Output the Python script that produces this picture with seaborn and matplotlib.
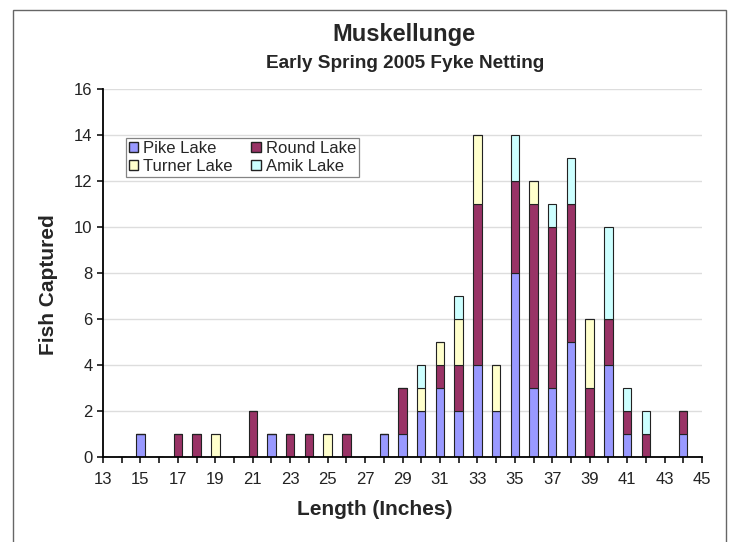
import numpy as np
import pandas as pd
import matplotlib
matplotlib.use("Agg")
import matplotlib.pyplot as plt
from matplotlib.patches import Patch, Rectangle
import seaborn as sns

lengths = list(range(13, 46))
pike = {15: 1, 22: 1, 28: 1, 29: 1, 30: 2, 31: 3, 32: 2, 33: 4, 34: 2, 35: 8, 36: 3,
        37: 3, 38: 5, 40: 4, 41: 1, 44: 1}
round_ = {17: 1, 18: 1, 21: 2, 23: 1, 24: 1, 26: 1, 29: 2, 31: 1, 32: 2, 33: 7, 35: 4,
          36: 8, 37: 7, 38: 6, 39: 3, 40: 2, 41: 1, 42: 1, 44: 1}
turner = {19: 1, 25: 1, 30: 1, 31: 1, 32: 2, 33: 3, 34: 2, 36: 1, 39: 3}
amik = {30: 1, 32: 1, 35: 2, 37: 1, 38: 2, 40: 4, 41: 1, 42: 1}

lakes = ["Pike Lake", "Round Lake", "Turner Lake", "Amik Lake"]
colors = ["#9999FF", "#993366", "#FFFFCC", "#CCFFFF"]
series = [pike, round_, turner, amik]

rows = []
for lake, d in zip(lakes, series):
    for L in lengths:
        rows.append({"Length": L, "Lake": lake, "Count": d.get(L, 0)})
df = pd.DataFrame(rows)

sns.set_style("white")
plt.rcParams["font.family"] = ["Liberation Sans", "DejaVu Sans"]

W, H = 732, 542
fig = plt.figure(figsize=(W / 100, H / 100), dpi=100)
ax = fig.add_axes([103 / W, 1 - 457 / H, (702 - 103) / W, (457 - 89) / H])

sns.histplot(data=df, x="Length", weights="Count", hue="Lake",
             hue_order=lakes[::-1], palette=dict(zip(lakes, colors)),
             multiple="stack", discrete=True, shrink=0.45, alpha=1,
             edgecolor="#222222", linewidth=0.8, legend=False, ax=ax)

ax.set_xlim(13, 45)
ax.set_ylim(0, 16)
ax.set_yticks(np.arange(0, 17, 2))
ax.set_xticks(np.arange(13, 46, 2))
ax.set_xticks(np.arange(14, 45, 2), minor=True)
ax.yaxis.grid(True, color="#dddddd", linewidth=1)
ax.set_axisbelow(True)
for s in ["top", "right"]:
    ax.spines[s].set_visible(False)
for s in ["left", "bottom"]:
    ax.spines[s].set_color("black")
    ax.spines[s].set_linewidth(1.3)
ax.tick_params(axis="both", which="both", direction="out", length=4.5, width=1.1,
               color="black", labelsize=12, bottom=True, left=True, pad=3,
               labelcolor="#222222")
ax.tick_params(axis="x", which="major", pad=6)
ax.set_xlabel("")
ax.set_ylabel("")

fig.text(375 / W, 1 - 515 / H, "Length (Inches)", ha="center", va="baseline",
         fontsize=15, fontweight="bold")
fig.text(48 / W, 1 - 285 / H, "Fish Captured", ha="center", va="center",
         rotation=90, fontsize=15, fontweight="bold")

fig.text(404 / W, 1 - 41 / H, "Muskellunge", ha="center", va="baseline",
         fontsize=17, fontweight="bold")
fig.text(405 / W, 1 - 68 / H, "Early Spring 2005 Fyke Netting", ha="center",
         va="baseline", fontsize=13.7, fontweight="bold")

handles = [Patch(facecolor=c, edgecolor="#222222", label=l) for l, c in zip(lakes, colors)]
order = [0, 2, 1, 3]
leg = ax.legend([handles[i] for i in order], [lakes[i] for i in order], ncol=2,
                loc="upper left", bbox_to_anchor=((126 - 103) / (702 - 103), (457 - 138) / (457 - 89)),
                fontsize=12, frameon=True, fancybox=False, edgecolor="#666666",
                handlelength=0.55, handleheight=0.55, handletextpad=0.3,
                columnspacing=1.1, borderpad=0.2, labelspacing=0.15, borderaxespad=0)
leg.get_frame().set_linewidth(0.9)

fig.patches.append(Rectangle((13 / W, -0.02), (726 - 13) / W, 0.02 + 1 - 10 / H,
                             transform=fig.transFigure, fill=False,
                             edgecolor="#666666", linewidth=1))

fig.savefig("out.png", dpi=100)
